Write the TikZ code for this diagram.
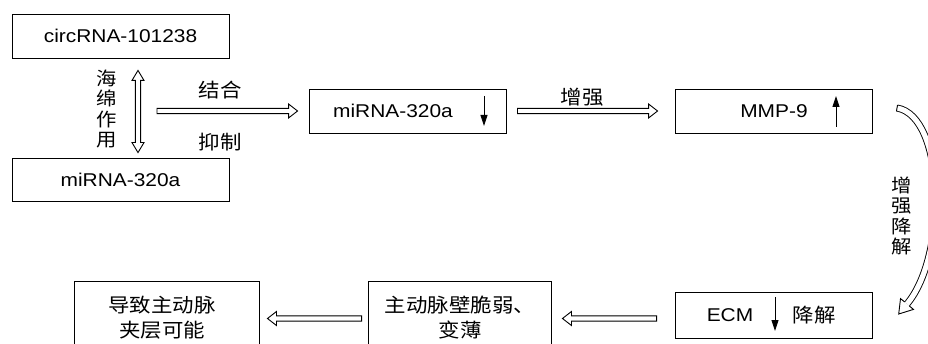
\documentclass[tikz,border=0pt]{standalone}
\usepackage{fontspec}
\setmainfont{Liberation Sans}[FakeStretch=1.13]
\newfontfamily\cjk{Noto Sans CJK SC}[FakeStretch=1.1]
\usetikzlibrary{calc,arrows.meta}
\tikzset{
  box/.style={draw, line width=0.9pt, inner sep=0pt},
  lat/.style={font=\fontsize{18.5}{22}\selectfont},
  han/.style={font=\cjk\fontsize{19.5}{25}\selectfont},
  vhan/.style={font=\cjk\fontsize{18.5}{20.5}\selectfont, align=center, inner sep=0pt},
  ind/.style={line width=0.9pt, -{Triangle[length=11pt,width=7pt]}},
  harrow/.style={line width=0.9pt, fill=white, line join=miter, to path={
    let \p1=(\tikztostart), \p2=(\tikztotarget), \n1={atan2(\y2-\y1,\x2-\x1)} in
    ($(\p1)+(\n1+90:2.6pt)$) -- ($(\p2)+(\n1+180:9pt)+(\n1+90:2.6pt)$)
    -- ($(\p2)+(\n1+180:9pt)+(\n1+90:7pt)$) -- (\p2)
    -- ($(\p2)+(\n1+180:9pt)+(\n1-90:7pt)$) -- ($(\p2)+(\n1+180:9pt)+(\n1-90:2.6pt)$)
    -- ($(\p1)+(\n1-90:2.6pt)$) -- cycle}},
  h2arrow/.style={line width=0.9pt, fill=white, line join=miter, to path={
    let \p1=(\tikztostart), \p2=(\tikztotarget), \n1={atan2(\y2-\y1,\x2-\x1)} in
    ($(\p1)+(\n1:10pt)+(\n1+90:2.6pt)$) -- ($(\p2)+(\n1+180:10pt)+(\n1+90:2.6pt)$)
    -- ($(\p2)+(\n1+180:10pt)+(\n1+90:6pt)$) -- (\p2)
    -- ($(\p2)+(\n1+180:10pt)+(\n1-90:6pt)$) -- ($(\p2)+(\n1+180:10pt)+(\n1-90:2.6pt)$)
    -- ($(\p1)+(\n1:10pt)+(\n1-90:2.6pt)$) -- ($(\p1)+(\n1:10pt)+(\n1-90:6pt)$)
    -- (\p1) -- ($(\p1)+(\n1:10pt)+(\n1+90:6pt)$) -- cycle}},
}
\begin{document}
\begin{tikzpicture}[x=1pt,y=-1pt]
\useasboundingbox (0,0) rectangle (928,344);
\clip (0,0) rectangle (928,344);
% boxes
\node[box, minimum width=217pt, minimum height=44pt, lat] (circ) at (120.5,36) {circRNA-101238};
\node[box, minimum width=217pt, minimum height=43pt, lat] (mir1) at (120.5,179.5) {miRNA-320a};
\node[box, minimum width=197pt, minimum height=44pt] (mir2) at (407.5,111) {};
\node[box, minimum width=197pt, minimum height=44pt] (mmp) at (773.5,111) {};
\node[box, minimum width=197pt, minimum height=46pt] (ecm) at (773.5,315) {};
\node[box, minimum width=183pt, minimum height=68pt] (wall) at (459.5,315) {};
\node[box, minimum width=185pt, minimum height=68pt] (dis) at (166.5,315) {};
% texts in boxes
\node[lat] (t2) at (393,111) {miRNA-320a};
\node[lat] (t3) at (774,111) {MMP-9};
\node[lat] (t4) at (730,315) {ECM};
\node[han] (t5) at (814,315) {降解};
\node[han, align=center] (t6) at (460,317.5) {主动脉壁脆弱、\\变薄};
\node[han, align=center] (t7) at (162,317.5) {导致主动脉\\夹层可能};
% indicator arrows
\draw[ind] (484,96) -- (484,126);
\draw[ind] (836,127) -- (836,96);
\draw[ind] (775,297) -- (775,331);
% labels
\node[vhan] (sp) at (107,109) {海\\绵\\作\\用};
\node[vhan] (zq) at (902,216) {增\\强\\降\\解};
\node[han] (l1) at (220,90) {结合};
\node[han] (l2) at (220,142) {抑制};
\node[han] (l3) at (582,97) {增强};
% hollow connectors
\coordinate (j) at (157,111);
\draw[harrow] (j) to ([xshift=-11pt]mir2.west);
\draw[harrow] ([xshift=11pt]mir2.east) to ([xshift=-17pt]mmp.west);
\draw[harrow] ([xshift=-18pt,yshift=-3.5pt]ecm.west) to ([xshift=11pt,yshift=-3.5pt]wall.east);
\draw[harrow] ([xshift=-6pt,yshift=-3.5pt]wall.west) to ([xshift=8pt,yshift=-3.5pt]dis.east);
\draw[h2arrow] ([xshift=17.5pt,yshift=-12pt]circ.south) to ([xshift=17.5pt,yshift=5pt]mir1.north);
% curved hollow arrow from MMP-9 to ECM
\coordinate (cs) at (897,108);
\coordinate (ce) at (907,304);
\draw[line width=0.9pt, double=white, double distance=5.2pt] (cs) .. controls (945,116) and (948,255) .. (ce);
\draw[line width=0.9pt] (896.5,111) -- (897.5,105);
\filldraw[fill=white, line width=0.9pt, line join=miter] (909.3,306) -- (913.5,309.4) -- (898.7,314) -- (900.5,298.6) -- (904.7,302);
\end{tikzpicture}
\end{document}
